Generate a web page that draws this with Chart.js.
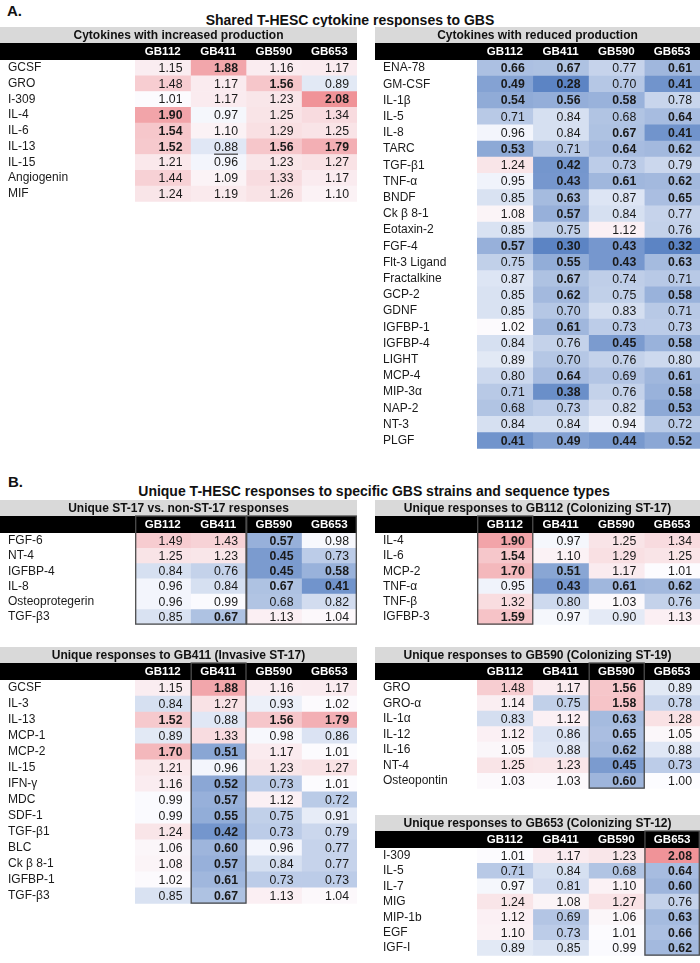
<!DOCTYPE html>
<html>
<head>
<meta charset="utf-8">
<script src="https://cdn.jsdelivr.net/npm/chart.js@4.4.1/dist/chart.umd.min.js"></script>
<style>
  body { margin: 0; background: #fff; width: 700px; height: 963px; position: relative; overflow: hidden;
         font-family: "Liberation Sans", Arial, sans-serif; }
  .tbl { position: absolute; }
  .head { position: absolute; font-weight: bold; color: #111; white-space: nowrap; }
</style>
</head>
<body>
<div class="head" style="left:7px;top:2px;font-size:15px">A.</div>
<div class="head" style="left:0;width:700px;top:12px;text-align:center;font-size:14px">Shared T-HESC cytokine responses to GBS</div>
<div class="head" style="left:8px;top:473px;font-size:15px">B.</div>
<div class="head" style="left:24px;width:700px;top:483px;text-align:center;font-size:14px">Unique T-HESC responses to specific GBS strains and sequence types</div>

<div class="tbl" style="left:0;top:27px;width:357px;height:182px"><canvas id="incChart"></canvas></div>
<div class="tbl" style="left:375px;top:27px;width:325px;height:429px"><canvas id="redChart"></canvas></div>
<div class="tbl" style="left:0;top:500px;width:357px;height:132px"><canvas id="st17Chart"></canvas></div>
<div class="tbl" style="left:375px;top:500px;width:325px;height:132px"><canvas id="gb112Chart"></canvas></div>
<div class="tbl" style="left:0;top:647px;width:357px;height:264px"><canvas id="gb411Chart"></canvas></div>
<div class="tbl" style="left:375px;top:647px;width:325px;height:149px"><canvas id="gb590Chart"></canvas></div>
<div class="tbl" style="left:375px;top:815px;width:325px;height:148px"><canvas id="gb653Chart"></canvas></div>

<script>
var FONT = '"Liberation Sans", Arial, sans-serif';

const strains = ["GB112", "GB411", "GB590", "GB653"];

// A. shared responses - increased production
const incNames = ["GCSF", "GRO", "I-309", "IL-4", "IL-6", "IL-13", "IL-15", "Angiogenin", "MIF"];
const incValues = [
  [1.15, 1.88, 1.16, 1.17],
  [1.48, 1.17, 1.56, 0.89],
  [1.01, 1.17, 1.23, 2.08],
  [1.90, 0.97, 1.25, 1.34],
  [1.54, 1.10, 1.29, 1.25],
  [1.52, 0.88, 1.56, 1.79],
  [1.21, 0.96, 1.23, 1.27],
  [1.44, 1.09, 1.33, 1.17],
  [1.24, 1.19, 1.26, 1.10]
];
const incBold = ["0100", "0010", "0001", "1000", "1000", "1011", "0000", "0000", "0000"];
const incUnderline = [[5, 1]];

// A. shared responses - reduced production
const redNames = ["ENA-78", "GM-CSF", "IL-1β", "IL-5", "IL-8", "TARC", "TGF-β1", "TNF-α", "BNDF", "Ck β 8-1",
  "Eotaxin-2", "FGF-4", "Flt-3 Ligand", "Fractalkine", "GCP-2", "GDNF", "IGFBP-1", "IGFBP-4", "LIGHT",
  "MCP-4", "MIP-3α", "NAP-2", "NT-3", "PLGF"];
const redValues = [
  [0.66, 0.67, 0.77, 0.61],
  [0.49, 0.28, 0.70, 0.41],
  [0.54, 0.56, 0.58, 0.78],
  [0.71, 0.84, 0.68, 0.64],
  [0.96, 0.84, 0.67, 0.41],
  [0.53, 0.71, 0.64, 0.62],
  [1.24, 0.42, 0.73, 0.79],
  [0.95, 0.43, 0.61, 0.62],
  [0.85, 0.63, 0.87, 0.65],
  [1.08, 0.57, 0.84, 0.77],
  [0.85, 0.75, 1.12, 0.76],
  [0.57, 0.30, 0.43, 0.32],
  [0.75, 0.55, 0.43, 0.63],
  [0.87, 0.67, 0.74, 0.71],
  [0.85, 0.62, 0.75, 0.58],
  [0.85, 0.70, 0.83, 0.71],
  [1.02, 0.61, 0.73, 0.73],
  [0.84, 0.76, 0.45, 0.58],
  [0.89, 0.70, 0.76, 0.80],
  [0.80, 0.64, 0.69, 0.61],
  [0.71, 0.38, 0.76, 0.58],
  [0.68, 0.73, 0.82, 0.53],
  [0.84, 0.84, 0.94, 0.72],
  [0.41, 0.49, 0.44, 0.52]
];
const redBold = ["1101", "1101", "1110", "0001", "0011", "1011", "0100", "0111", "0101", "0100",
  "0000", "1111", "0111", "0100", "0101", "0000", "0100", "0011", "0000", "0101", "0101", "0001",
  "0000", "1111"];

// B. ST-17 vs non-ST-17
const st17Names = ["FGF-6", "NT-4", "IGFBP-4", "IL-8", "Osteoprotegerin", "TGF-β3"];
const st17Values = [
  [1.49, 1.43, 0.57, 0.98],
  [1.25, 1.23, 0.45, 0.73],
  [0.84, 0.76, 0.45, 0.58],
  [0.96, 0.84, 0.67, 0.41],
  [0.96, 0.99, 0.68, 0.82],
  [0.85, 0.67, 1.13, 1.04]
];
const st17Bold = ["0010", "0010", "0011", "0011", "0000", "0100"];

// B. GB112
const gb112Names = ["IL-4", "IL-6", "MCP-2", "TNF-α", "TNF-β", "IGFBP-3"];
const gb112Values = [
  [1.90, 0.97, 1.25, 1.34],
  [1.54, 1.10, 1.29, 1.25],
  [1.70, 0.51, 1.17, 1.01],
  [0.95, 0.43, 0.61, 0.62],
  [1.32, 0.80, 1.03, 0.76],
  [1.59, 0.97, 0.90, 1.13]
];
const gb112Bold = ["1000", "1000", "1100", "0111", "0000", "1000"];

// B. GB411
const gb411Names = ["GCSF", "IL-3", "IL-13", "MCP-1", "MCP-2", "IL-15", "IFN-γ", "MDC", "SDF-1", "TGF-β1",
  "BLC", "Ck β 8-1", "IGFBP-1", "TGF-β3"];
const gb411Values = [
  [1.15, 1.88, 1.16, 1.17],
  [0.84, 1.27, 0.93, 1.02],
  [1.52, 0.88, 1.56, 1.79],
  [0.89, 1.33, 0.98, 0.86],
  [1.70, 0.51, 1.17, 1.01],
  [1.21, 0.96, 1.23, 1.27],
  [1.16, 0.52, 0.73, 1.01],
  [0.99, 0.57, 1.12, 0.72],
  [0.99, 0.55, 0.75, 0.91],
  [1.24, 0.42, 0.73, 0.79],
  [1.06, 0.60, 0.96, 0.77],
  [1.08, 0.57, 0.84, 0.77],
  [1.02, 0.61, 0.73, 0.73],
  [0.85, 0.67, 1.13, 1.04]
];
const gb411Bold = ["0100", "0000", "1011", "0000", "1100", "0000", "0100", "0100", "0100", "0100",
  "0100", "0100", "0100", "0100"];

// B. GB590
const gb590Names = ["GRO", "GRO-α", "IL-1α", "IL-12", "IL-16", "NT-4", "Osteopontin"];
const gb590Values = [
  [1.48, 1.17, 1.56, 0.89],
  [1.14, 0.75, 1.58, 0.78],
  [0.83, 1.12, 0.63, 1.28],
  [1.12, 0.86, 0.65, 1.05],
  [1.05, 0.88, 0.62, 0.88],
  [1.25, 1.23, 0.45, 0.73],
  [1.03, 1.03, 0.60, 1.00]
];
const gb590Bold = ["0010", "0010", "0010", "0010", "0010", "0010", "0010"];

// B. GB653
const gb653Names = ["I-309", "IL-5", "IL-7", "MIG", "MIP-1b", "EGF", "IGF-I"];
const gb653Values = [
  [1.01, 1.17, 1.23, 2.08],
  [0.71, 0.84, 0.68, 0.64],
  [0.97, 0.81, 1.10, 0.60],
  [1.24, 1.08, 1.27, 0.76],
  [1.12, 0.69, 1.06, 0.63],
  [1.10, 0.73, 1.01, 0.66],
  [0.89, 0.85, 0.99, 0.62]
];
const gb653Bold = ["0001", "0001", "0001", "0000", "0001", "0001", "0001"];

// blue - white - red scale around 1.0
function cellColor(v) {
  var lo = [252, 252, 255], c, t;
  if (v >= 1) {
    t = Math.min((v - 1) / 1.1, 1);
    c = [240, 145, 150];
  } else {
    t = Math.min((1 - v) / 0.68, 1);
    c = [92, 132, 196];
  }
  var r = Math.round(lo[0] + (c[0] - lo[0]) * t);
  var g = Math.round(lo[1] + (c[1] - lo[1]) * t);
  var b = Math.round(lo[2] + (c[2] - lo[2]) * t);
  return "rgb(" + r + "," + g + "," + b + ")";
}

function makeDeco(t) {
  return {
    id: "deco",
    beforeDraw: function(chart) {
      var ctx = chart.ctx, w = chart.width, x = chart.scales.x;
      ctx.save();
      ctx.fillStyle = "#d9d9d9";
      ctx.fillRect(0, 0, w, 16);
      ctx.fillStyle = "#000";
      ctx.fillRect(0, 16, w, 17);
      ctx.textAlign = "center";
      ctx.textBaseline = "middle";
      ctx.fillStyle = "#111";
      ctx.font = "bold 12px " + FONT;
      ctx.fillText(t.title, w / 2, 8.5);
      ctx.fillStyle = "#fff";
      ctx.font = "bold 11.6px " + FONT;
      strains.forEach(function(s, j) {
        ctx.fillText(s, x.getPixelForValue(j + 0.5), 25);
      });
      ctx.restore();
    },
    afterDatasetsDraw: function(chart) {
      var ctx = chart.ctx, x = chart.scales.x, area = chart.chartArea;
      ctx.save();
      ctx.textAlign = "right";
      ctx.textBaseline = "middle";
      ctx.fillStyle = "#1a1a1a";
      chart.data.datasets.forEach(function(ds, j) {
        chart.getDatasetMeta(j).data.forEach(function(bar, r) {
          var p = bar.getProps(["x", "y", "base"], true);
          var right = Math.max(p.x, p.base) - 8;
          var bold = t.bold[r].charAt(j) === "1";
          ctx.font = (bold ? "bold " : "") + "12.3px " + FONT;
          var txt = t.values[r][j].toFixed(2);
          ctx.fillText(txt, right, p.y + 0.5);
          (t.underline || []).forEach(function(u) {
            if (u[0] === r && u[1] === j) {
              var tw = ctx.measureText(txt).width;
              ctx.fillRect(right - tw, p.y + 7, tw, 1);
            }
          });
        });
      });
      ctx.strokeStyle = "#4d4d4d";
      ctx.lineWidth = 1.3;
      (t.boxes || []).forEach(function(b) {
        var x0 = x.getPixelForValue(b[0]) + 0.7;
        var x1 = Math.min(x.getPixelForValue(b[1] + 1), chart.width - 0.7);
        ctx.strokeRect(x0, 16, x1 - x0, area.bottom - 16.7);
      });
      ctx.restore();
    }
  };
}

function makeTable(id, t) {
  var datasets = strains.map(function(s, j) {
    return {
      label: s,
      data: t.names.map(function() { return [j, j + 1]; }),
      backgroundColor: t.values.map(function(row) { return cellColor(row[j]); }),
      borderWidth: 0,
      grouped: false,
      barPercentage: 1,
      categoryPercentage: 1
    };
  });
  return new Chart(document.getElementById(id), {
    type: "bar",
    data: { labels: t.names, datasets: datasets },
    plugins: [makeDeco(t)],
    options: {
      indexAxis: "y",
      responsive: true,
      maintainAspectRatio: false,
      animation: false,
      events: [],
      layout: { padding: { left: 8, top: 33, right: 0, bottom: 0 } },
      plugins: { legend: { display: false }, tooltip: { enabled: false }, title: { display: false } },
      scales: {
        x: { display: false, min: 0, max: 4 },
        y: {
          grid: { display: false },
          border: { display: false },
          ticks: { autoSkip: false, crossAlign: "far", padding: 0, color: "#1a1a1a",
                   font: { family: FONT, size: 12 } },
          afterFit: function(s) { s.width = t.labelW - 8; }
        }
      }
    }
  });
}

makeTable("incChart", { title: "Cytokines with increased production", names: incNames, values: incValues,
  bold: incBold, underline: incUnderline, labelW: 135 });
makeTable("redChart", { title: "Cytokines with reduced production", names: redNames, values: redValues,
  bold: redBold, labelW: 102 });
makeTable("st17Chart", { title: "Unique ST-17 vs. non-ST-17 responses", names: st17Names, values: st17Values,
  bold: st17Bold, boxes: [[0, 1], [2, 3]], labelW: 135 });
makeTable("gb112Chart", { title: "Unique responses to GB112 (Colonizing ST-17)", names: gb112Names,
  values: gb112Values, bold: gb112Bold, boxes: [[0, 0]], labelW: 102 });
makeTable("gb411Chart", { title: "Unique responses to GB411 (Invasive ST-17)", names: gb411Names,
  values: gb411Values, bold: gb411Bold, boxes: [[1, 1]], labelW: 135 });
makeTable("gb590Chart", { title: "Unique responses to GB590 (Colonizing ST-19)", names: gb590Names,
  values: gb590Values, bold: gb590Bold, boxes: [[2, 2]], labelW: 102 });
makeTable("gb653Chart", { title: "Unique responses to GB653 (Colonizing ST-12)", names: gb653Names,
  values: gb653Values, bold: gb653Bold, boxes: [[3, 3]], labelW: 102 });
</script>
</body>
</html>
